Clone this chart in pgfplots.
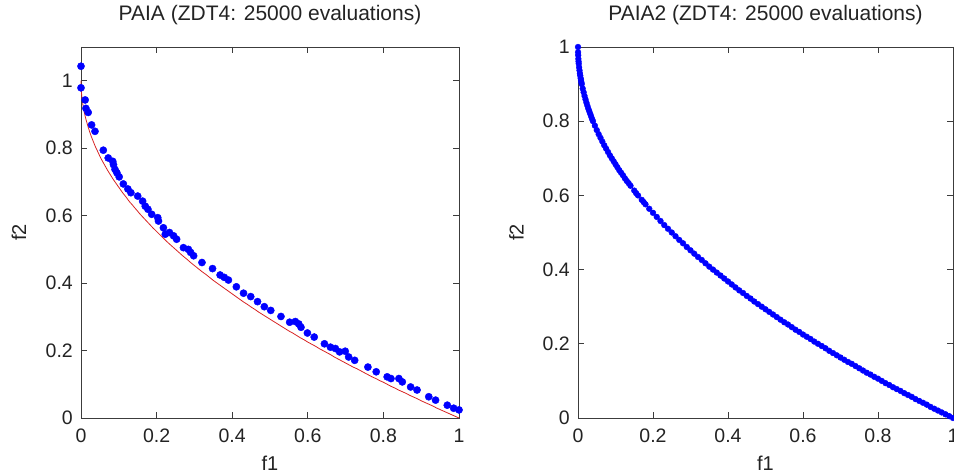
\documentclass[border=0pt]{standalone}
\usepackage{fontspec}
\setmainfont{Liberation Sans}
\usepackage{pgfplots}
\usepackage{pgfplotstable}
\pgfplotsset{compat=1.18}
\definecolor{frontred}{RGB}{215,35,35}
\definecolor{axgray}{RGB}{60,60,60}
\definecolor{txtgray}{RGB}{35,35,35}

% PAIA obtained points
\pgfplotstableread{
x y
0.000 1.043
0.000 0.979
0.011 0.943
0.013 0.918
0.019 0.906
0.028 0.869
0.037 0.850
0.059 0.794
0.072 0.771
0.084 0.761
0.086 0.751
0.090 0.737
0.095 0.727
0.101 0.715
0.112 0.694
0.124 0.679
0.132 0.668
0.150 0.658
0.163 0.643
0.170 0.628
0.177 0.619
0.187 0.604
0.203 0.594
0.205 0.584
0.218 0.564
0.223 0.545
0.234 0.550
0.245 0.540
0.253 0.530
0.271 0.505
0.284 0.500
0.290 0.491
0.298 0.481
0.320 0.461
0.348 0.443
0.368 0.424
0.379 0.417
0.390 0.409
0.411 0.389
0.430 0.370
0.449 0.360
0.467 0.345
0.485 0.330
0.502 0.319
0.529 0.301
0.552 0.284
0.567 0.286
0.576 0.279
0.582 0.269
0.599 0.252
0.617 0.240
0.644 0.220
0.660 0.210
0.673 0.206
0.684 0.196
0.699 0.198
0.708 0.181
0.724 0.171
0.759 0.151
0.781 0.137
0.810 0.122
0.820 0.117
0.841 0.117
0.850 0.107
0.872 0.092
0.889 0.083
0.920 0.063
0.938 0.053
0.969 0.038
0.986 0.029
1.000 0.024
}\paiapts

% true Pareto front / PAIA2 points
\pgfplotstableread{
x y
0 1
0.0002 0.986
0.0005 0.978
0.001 0.968
0.0015 0.961
0.002 0.955
0.003 0.945
0.004 0.937
0.005 0.929
0.006 0.923
0.007 0.916
0.008 0.911
0.009 0.905
0.010 0.900
0.0125 0.888
0.015 0.878
0.0175 0.868
0.020 0.859
0.0225 0.850
0.025 0.842
0.0275 0.834
0.030 0.827
0.0325 0.820
0.035 0.813
0.0375 0.806
0.040 0.800
0.045 0.788
0.050 0.776
0.055 0.765
0.060 0.755
0.065 0.745
0.070 0.735
0.075 0.726
0.080 0.717
0.085 0.708
0.090 0.700
0.095 0.692
0.100 0.684
0.105 0.676
0.110 0.668
0.115 0.661
0.120 0.654
0.125 0.646
0.130 0.639
0.135 0.633
0.140 0.626
0.150 0.613
0.155 0.606
0.160 0.600
0.170 0.588
0.175 0.582
0.180 0.576
0.190 0.564
0.200 0.553
0.210 0.542
0.220 0.531
0.230 0.520
0.240 0.510
0.250 0.500
0.260 0.490
0.270 0.480
0.280 0.471
0.290 0.461
0.300 0.452
0.310 0.443
0.320 0.434
0.330 0.426
0.340 0.417
0.350 0.408
0.360 0.400
0.370 0.392
0.380 0.384
0.390 0.376
0.400 0.368
0.410 0.360
0.420 0.352
0.430 0.344
0.440 0.337
0.450 0.329
0.460 0.322
0.470 0.314
0.480 0.307
0.490 0.300
0.500 0.293
0.510 0.286
0.520 0.279
0.530 0.272
0.540 0.265
0.550 0.258
0.560 0.252
0.570 0.245
0.580 0.238
0.590 0.232
0.600 0.225
0.610 0.219
0.620 0.213
0.630 0.206
0.640 0.200
0.650 0.194
0.660 0.188
0.670 0.181
0.680 0.175
0.690 0.169
0.700 0.163
0.710 0.157
0.720 0.151
0.730 0.146
0.740 0.140
0.750 0.134
0.760 0.128
0.770 0.122
0.780 0.117
0.790 0.111
0.800 0.106
0.810 0.100
0.820 0.094
0.830 0.089
0.840 0.083
0.850 0.078
0.860 0.073
0.870 0.067
0.880 0.062
0.890 0.057
0.900 0.051
0.910 0.046
0.920 0.041
0.930 0.036
0.940 0.030
0.950 0.025
0.960 0.020
0.970 0.015
0.980 0.010
0.990 0.005
1.000 0.000
}\front

\pgfplotsset{paia/.style={
  scale only axis, anchor=south west,
  height=371bp,
  xmin=0, xmax=1, ymin=0,
  xtick={0,0.2,0.4,0.6,0.8,1},
  ytick={0,0.2,0.4,0.6,0.8,1},
  tick align=inside, major tick length=6bp,
  axis line style={axgray, line width=0.9bp},
  every tick/.style={axgray, line width=0.8bp},
  /pgf/number format/assume math mode=true,
  ticklabel style={font=\fontsize{19.5bp}{22bp}\selectfont, text=txtgray},
  xticklabel style={anchor=base, yshift=-24bp, inner sep=0pt},
  yticklabel style={anchor=east, inner sep=0pt, xshift=-8bp},
  label style={font=\fontsize{20bp}{24bp}\selectfont, text=txtgray},
  xlabel style={at={(axis description cs:0.5,0)}, anchor=base, yshift=-52bp},
  ylabel style={at={(axis description cs:-0.164,0.5)}, anchor=center},
  title style={at={(axis description cs:0.5,1)}, anchor=base, yshift=21bp,
    font=\fontsize{21bp}{24bp}\selectfont, text=txtgray},
  xlabel={f1}, ylabel={f2},
  clip=false,
}}

\begin{document}
\begin{tikzpicture}
\useasboundingbox (0,0) rectangle (954bp,475bp);
\begin{axis}[paia, at={(81bp,57bp)}, width=378bp, ymax=1.1,
  title={PAIA (ZDT4: 25000 evaluations)}]
\addplot[frontred, line width=0.8bp, no marks] table[x=x,y=y] {\front};
\addplot[only marks, mark=*, mark size=3.6bp, blue, mark options={draw=blue, fill=blue}] table[x=x,y=y] {\paiapts};
\end{axis}
\begin{axis}[paia, at={(578bp,57bp)}, width=375bp, ymax=1,
  title={PAIA2 (ZDT4: 25000 evaluations)}]
\addplot[only marks, mark=*, mark size=2.9bp, blue, mark options={draw=blue, fill=blue}] table[x=x,y=y] {\front};
\addplot[frontred, line width=0.8bp, no marks] table[x=x,y=y] {\front};
\end{axis}
\end{tikzpicture}
\end{document}
